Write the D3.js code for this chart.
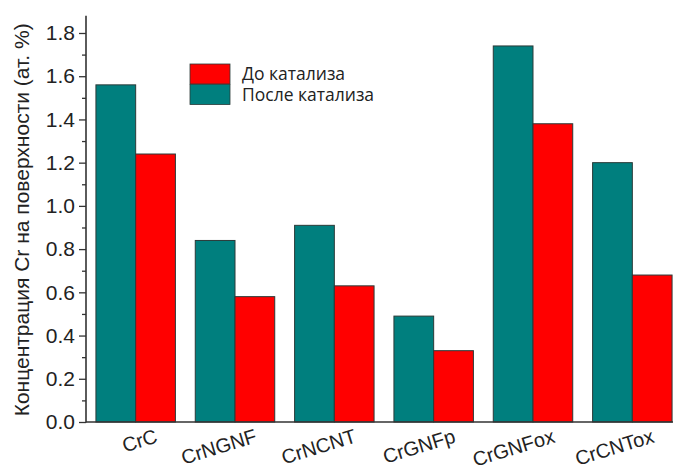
<!DOCTYPE html>
<html>
<head>
<meta charset="utf-8">
<script src="https://cdn.jsdelivr.net/npm/d3@7"></script>
<style>
  html, body { margin: 0; padding: 0; background: #fff; }
  svg { display: block; }
</style>
</head>
<body>
<svg id="chart" width="673" height="468"></svg>
<script>
// Surface Cr concentration before/after catalysis for each sample
const categories = ["CrC", "CrNGNF", "CrNCNT", "CrGNFp", "CrGNFox", "CrCNTox"];
const seriesNames = ["После катализа", "До катализа"];
const afterValues = [1.56, 0.84, 0.91, 0.49, 1.74, 1.20];
const beforeValues = [1.24, 0.58, 0.63, 0.33, 1.38, 0.68];
const yTickValues = [0, 0.2, 0.4, 0.6, 0.8, 1.0, 1.2, 1.4, 1.6, 1.8];
const yMinorValues = [0.1, 0.3, 0.5, 0.7, 0.9, 1.1, 1.3, 1.5, 1.7];
const legendOrder = ["До катализа", "После катализа"];

const colors = { "После катализа": "#007f7e", "До катализа": "#ff0000" };
const seriesValues = { "После катализа": afterValues, "До катализа": beforeValues };

const svg = d3.select("#chart");
const W = 673, H = 468;
const mLeft = 86, mBottom = 422, mTop = 15.7, mRight = 682;

svg.append("rect").attr("width", W).attr("height", H).attr("fill", "#fff");

const x = d3.scaleBand().domain(categories).range([mLeft, mRight])
  .paddingInner(0.2).paddingOuter(0.1);
const xs = d3.scaleBand().domain(seriesNames).range([0, x.bandwidth()]);
const y = d3.scaleLinear().domain([0, 1.88]).range([mBottom, mTop]);

// bars
const groups = svg.append("g").selectAll("g")
  .data(categories).join("g")
  .attr("transform", d => `translate(${x(d)},0)`);

groups.selectAll("rect")
  .data((c, i) => seriesNames.map(s => ({ s, v: seriesValues[s][i] })))
  .join("rect")
  .attr("x", d => xs(d.s))
  .attr("width", xs.bandwidth())
  .attr("y", d => y(d.v))
  .attr("height", d => y(0) - y(d.v))
  .attr("fill", d => colors[d.s])
  .attr("stroke", "#2a3a38")
  .attr("stroke-width", 1);

// y axis with major and minor ticks
const yAxis = d3.axisLeft(y).tickValues(yTickValues)
  .tickFormat(d3.format(".1f")).tickSize(7).tickPadding(4);
const gy = svg.append("g").attr("transform", `translate(${mLeft},0)`).call(yAxis);
gy.select(".domain").remove();
gy.selectAll(".tick line").attr("stroke", "#333").attr("stroke-width", 1.3);
gy.selectAll(".tick text")
  .attr("font-family", "Liberation Sans, Arial, sans-serif")
  .attr("font-size", 21).attr("fill", "#222");

const yMinor = d3.axisLeft(y).tickValues(yMinorValues).tickSize(4).tickFormat("");
const gym = svg.append("g").attr("transform", `translate(${mLeft},0)`).call(yMinor);
gym.select(".domain").remove();
gym.selectAll(".tick line").attr("stroke", "#333").attr("stroke-width", 1.3);

// axis lines
svg.append("line").attr("x1", mLeft).attr("x2", mLeft)
  .attr("y1", y.range()[1]).attr("y2", mBottom + 0.5)
  .attr("stroke", "#333").attr("stroke-width", 1.6);
svg.append("line").attr("x1", mLeft).attr("x2", W)
  .attr("y1", mBottom).attr("y2", mBottom)
  .attr("stroke", "#333").attr("stroke-width", 1.6);

// category labels, tilted upward and anchored at their right end
svg.append("g").selectAll("text")
  .data(categories).join("text")
  .attr("transform", d => `translate(${x(d) + x.bandwidth() / 2 + 23},442) rotate(-17)`)
  .attr("text-anchor", "end")
  .attr("font-family", "Liberation Sans, Arial, sans-serif")
  .attr("font-size", 20).attr("fill", "#222")
  .text(d => d);

// y title
svg.append("text")
  .attr("transform", `translate(29,${(mBottom + mTop) / 2 + 1}) rotate(-90)`)
  .attr("text-anchor", "middle")
  .attr("font-family", "Liberation Sans, Arial, sans-serif")
  .attr("font-size", 21).attr("fill", "#222")
  .text("Концентрация Cr на поверхности (ат. %)");

// legend
const lg = svg.append("g").attr("transform", "translate(190,64)");
legendOrder.forEach((s, i) => {
  lg.append("rect").attr("x", 0).attr("y", i * 20.5)
    .attr("width", 40).attr("height", 20)
    .attr("fill", colors[s]).attr("stroke", "#2a3a38").attr("stroke-width", 0.8);
  lg.append("text").attr("x", 52).attr("y", i * 20.5 + 16)
    .attr("font-family", "Open Sans, sans-serif")
    .attr("font-size", 17.5).attr("fill", "#222")
    .text(s);
});
</script>
</body>
</html>
